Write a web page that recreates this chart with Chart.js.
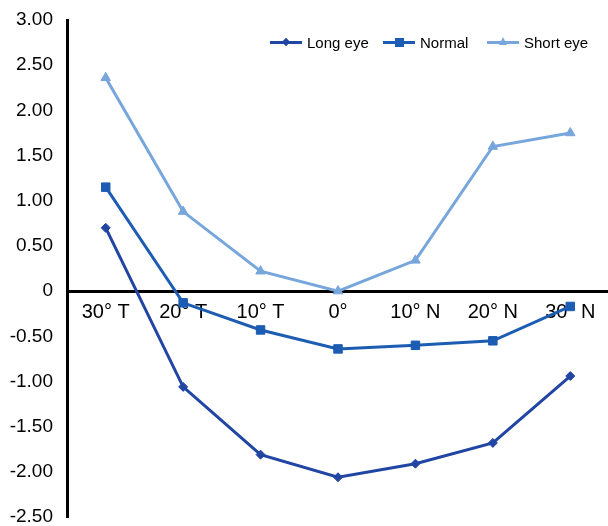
<!DOCTYPE html>
<html>
<head>
<meta charset="utf-8">
<script src="https://cdn.jsdelivr.net/npm/chart.js@4"></script>
<style>
  html, body { margin: 0; padding: 0; background: #fff; overflow: hidden; }
  #wrap { position: relative; width: 616px; height: 526px; }
  .leg { position: absolute; top: 33px; height: 18px; display: flex; align-items: center;
         font: 15px 'Liberation Sans', Arial, sans-serif; color: #000; white-space: nowrap; }
  .sample { position: relative; width: 32px; height: 3px; margin-right: 5px; }
  .mk { position: absolute; left: 50%; top: 50%; }
</style>
</head>
<body>
<div id="wrap">
  <canvas id="chart" width="616" height="526"></canvas>
  <div id="legend"></div>
</div>
<script>
// ─── DATA ─────────────────────────────────────────────────
const categories = ['30° T', '20° T', '10° T', '0°', '10° N', '20° N', '30° N'];
const longEye  = [0.70, -1.06, -1.81, -2.06, -1.91, -1.68, -0.94];
const normal   = [1.15, -0.13, -0.43, -0.64, -0.60, -0.55, -0.17];
const shortEye = [2.36, 0.88, 0.22, 0.00, 0.34, 1.60, 1.75];
const yTicks   = [-2.5, -2.0, -1.5, -1.0, -0.5, 0, 0.5, 1.0, 1.5, 2.0, 2.5, 3.0];

const FONT = "'Liberation Sans', Arial, sans-serif";
const COL_LONG   = '#2145a3';
const COL_NORMAL = '#1c5db3';
const COL_SHORT  = '#76a6dc';

const series = [
  { label: 'Long eye',  data: longEye,  color: COL_LONG,   style: 'rectRot',  radius: 4.5, legendX: 270 },
  { label: 'Normal',    data: normal,   color: COL_NORMAL, style: 'rect',     radius: 6,   legendX: 383 },
  { label: 'Short eye', data: shortEye, color: COL_SHORT,  style: 'triangle', radius: 5.5, legendX: 487 },
];

new Chart(document.getElementById('chart'), {
  type: 'line',
  data: {
    labels: categories,
    datasets: series.map(s => ({
      label: s.label,
      data: s.data,
      borderColor: s.color,
      backgroundColor: s.color,
      borderWidth: 3,
      pointStyle: s.style,
      pointRadius: s.radius,
      pointBorderWidth: 1,
      pointBackgroundColor: s.color,
      pointBorderColor: s.color,
      tension: 0,
      clip: false,
    })),
  },
  options: {
    responsive: false,
    animation: false,
    layout: { padding: { top: 20, bottom: 9, right: 4, left: 0 } },
    plugins: { legend: { display: false }, tooltip: { enabled: false } },
    scales: {
      x: {
        type: 'category',
        position: { y: 0 },
        offset: true,
        grid: { display: false },
        border: { display: true, color: '#000', width: 3 },
        ticks: { color: '#000', font: { family: FONT, size: 20 }, padding: 1, maxRotation: 0, autoSkip: false },
      },
      y: {
        min: -2.5,
        max: 3,
        afterFit: s => { s.width = 67; s.paddingTop = 0; s.paddingBottom = 0; },
        afterBuildTicks: s => { s.ticks = yTicks.map(v => ({ value: v })); },
        grid: { display: false },
        border: { display: true, color: '#000', width: 3 },
        ticks: {
          color: '#000',
          font: { family: FONT, size: 19 },
          padding: 6,
          callback: v => v === 0 ? '0' : v.toFixed(2),
        },
      },
    },
  },
});

// ─── LEGEND ───────────────────────────────────────────────
function markerHtml(s) {
  if (s.style === 'rectRot')
    return `<span class="mk" style="width:6px;height:6px;margin:-3px 0 0 -3px;background:${s.color};transform:rotate(45deg)"></span>`;
  if (s.style === 'rect')
    return `<span class="mk" style="width:9px;height:9px;margin:-4.5px 0 0 -4.5px;background:${s.color}"></span>`;
  return `<span class="mk" style="width:0;height:0;margin:-5px 0 0 -4.5px;border-left:4.5px solid transparent;border-right:4.5px solid transparent;border-bottom:8px solid ${s.color}"></span>`;
}
document.getElementById('legend').innerHTML = series.map(s => `
  <div class="leg" style="left:${s.legendX}px">
    <span class="sample" style="background:${s.color}">${markerHtml(s)}</span>${s.label}
  </div>`).join('');
</script>
</body>
</html>
